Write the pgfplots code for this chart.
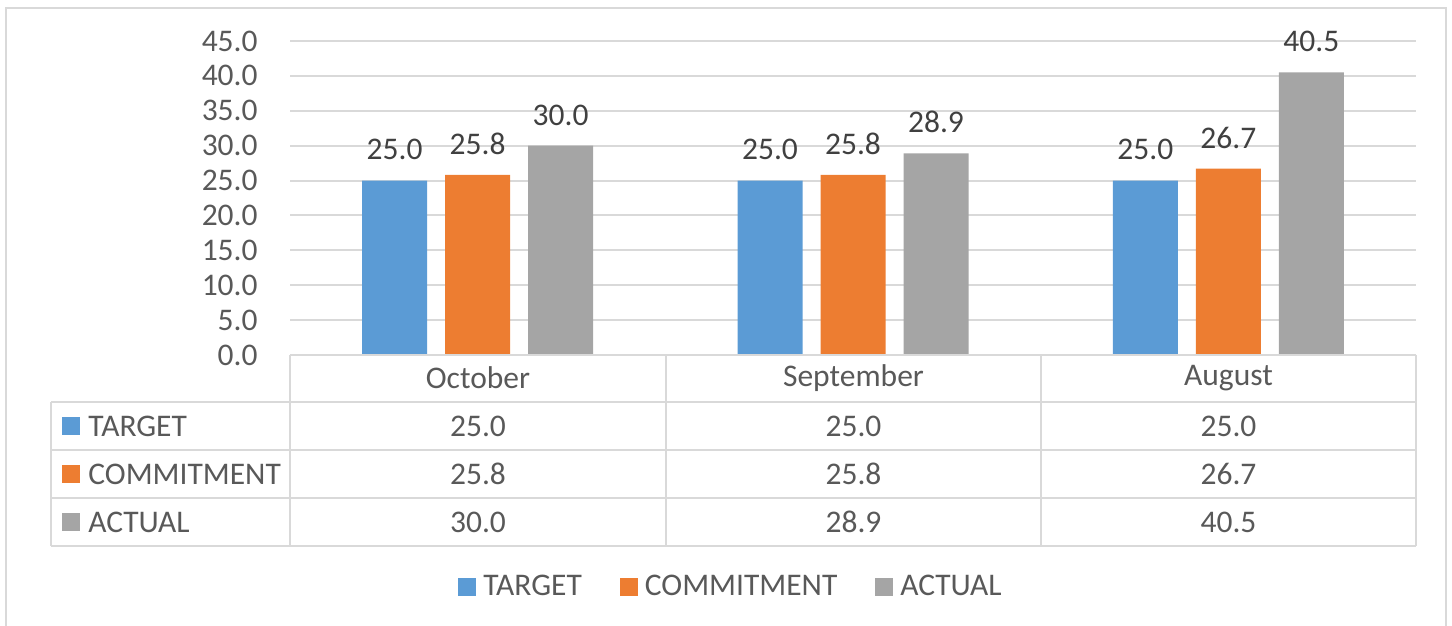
\documentclass[border=0pt]{standalone}
\usepackage{pgfplots}
\pgfplotsset{compat=1.18}
\usepackage{fontspec}
\setmainfont{Carlito}
\definecolor{cblue}{HTML}{5B9BD5}
\definecolor{corange}{HTML}{ED7D31}
\definecolor{cgray}{HTML}{A5A5A5}
\definecolor{gridc}{HTML}{D9D9D9}
\definecolor{txt}{HTML}{595959}
\definecolor{lbl}{HTML}{404040}
\newcommand{\fs}{\fontsize{15.75}{18}\selectfont}
\begin{document}
\begin{tikzpicture}[x=0.5pt,y=0.5pt]
\useasboundingbox (0,0) rectangle (1452,626);
\draw[gridc, line width=1pt] (6,-5) -- (6,618) -- (1446,618) -- (1446,-5);
\begin{axis}[
  at={(145pt,135.5pt)}, anchor=south west,
  scale only axis, width=563pt, height=157pt,
  xmin=-0.5, xmax=2.5, ymin=0, ymax=45,
  ybar=9pt, bar width=32.5pt,
  axis line style={draw=none},
  ymajorgrids, grid style={gridc, line width=1pt},
  ytick={0,5,10,15,20,25,30,35,40,45},
  xtick=\empty,
  major tick length=0pt,
  /pgf/number format/assume math mode=true,
  yticklabel style={font=\fs, text=txt, inner sep=0pt, xshift=-16pt,
    /pgf/number format/.cd, fixed, fixed zerofill, precision=1},
  nodes near coords={\pgfmathprintnumber[fixed,fixed zerofill,precision=1]{\pgfplotspointmeta}},
  nodes near coords style={font=\fs, text=lbl, anchor=south, inner sep=0pt, yshift=10pt},
  enlargelimits=false, clip=false,
  legend style={draw=none, fill=none, legend columns=-1, at={(0.3739,-0.7389)}, anchor=center,
    font=\fs, text=txt, nodes={inner sep=0pt}, column sep=0pt},
  legend image code/.code={\path[draw=none,fill=none] (-19pt,0) (12.5pt,0); \fill[#1,draw=none] (0pt,-4.5pt) rectangle (9pt,4.5pt);},
]
\addplot[fill=cblue, draw=none] coordinates {(0,25.0) (1,25.0) (2,25.0)};
\addplot[fill=corange, draw=none] coordinates {(0,25.8) (1,25.8) (2,26.7)};
\addplot[fill=cgray, draw=none] coordinates {(0,30.0) (1,28.9) (2,40.5)};
\legend{TARGET, COMMITMENT, ACTUAL}
\end{axis}
% data table
\begin{scope}[gridc, line width=1pt]
\draw (290,271) -- (1416,271);
\draw (51,224) -- (1416,224);
\draw (51,176) -- (1416,176);
\draw (51,128) -- (1416,128);
\draw (51,80) -- (1416,80);
\draw (51,224) -- (51,80);
\draw (290,271) -- (290,80);
\draw (666,271) -- (666,80);
\draw (1041,271) -- (1041,80);
\draw (1416,271) -- (1416,80);
\end{scope}
\begin{scope}[every node/.style={font=\fs, text=txt, inner sep=0pt}]
\node at (478,248) {October};
\node at (853.5,248) {September};
\node at (1228.5,248) {August};
\fill[cblue] (62,191) rectangle (80,209);
\fill[corange] (62,143) rectangle (80,161);
\fill[cgray] (62,95) rectangle (80,113);
\node[anchor=west] at (88,200) {TARGET};
\node[anchor=west] at (88,152) {COMMITMENT};
\node[anchor=west] at (88,104) {ACTUAL};
\node at (478,200) {25.0}; \node at (853.5,200) {25.0}; \node at (1228.5,200) {25.0};
\node at (478,152) {25.8}; \node at (853.5,152) {25.8}; \node at (1228.5,152) {26.7};
\node at (478,104) {30.0}; \node at (853.5,104) {28.9}; \node at (1228.5,104) {40.5};
\end{scope}
\end{tikzpicture}
\end{document}
